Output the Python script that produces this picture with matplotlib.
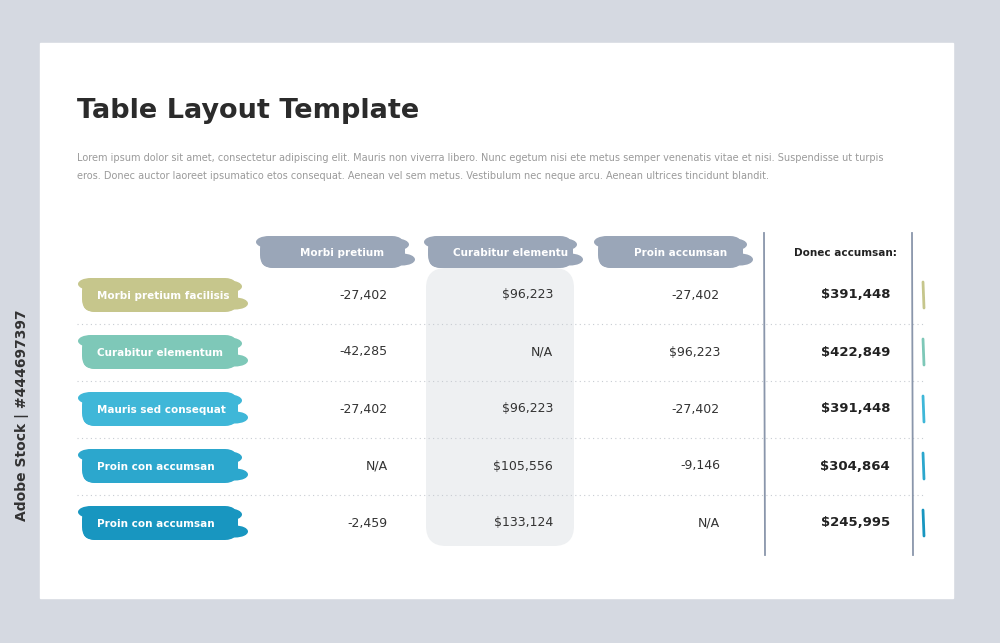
import matplotlib.pyplot as plt
from matplotlib.patches import FancyBboxPatch, Ellipse, Rectangle

title = "Table Layout Template"
body = ["Lorem ipsum dolor sit amet, consectetur adipiscing elit. Mauris non viverra libero. Nunc egetum nisi ete metus semper venenatis vitae et nisi. Suspendisse ut turpis",
        "eros. Donec auctor laoreet ipsumatico etos consequat. Aenean vel sem metus. Vestibulum nec neque arcu. Aenean ultrices tincidunt blandit."]
columns = ["Morbi pretium", "Curabitur elementu", "Proin accumsan"]
total_header = "Donec accumsan:"
rows = ["Morbi pretium facilisis", "Curabitur elementum", "Mauris sed consequat",
        "Proin con accumsan", "Proin con accumsan"]
col1 = ["-27,402", "-42,285", "-27,402", "N/A", "-2,459"]
col2 = ["$96,223", "N/A", "$96,223", "$105,556", "$133,124"]
col3 = ["-27,402", "$96,223", "-27,402", "-9,146", "N/A"]
totals = ["$391,448", "$422,849", "$391,448", "$304,864", "$245,995"]
row_colors = ["#c6c68c", "#7ec8b8", "#3fb7d8", "#2ca7cd", "#1896c0"]
head_color = "#9aa6b8"

fig = plt.figure(figsize=(10, 6.43), dpi=100)
fig.patch.set_facecolor("#d5d9e1")
ax = fig.add_axes([0, 0, 1, 1])
ax.set_xlim(0, 1000)
ax.set_ylim(643, 0)
ax.axis("off")

ax.add_patch(Rectangle((40, 43), 913, 555, color="white"))

def blob(x0, x1, yc, h, color):
    ax.add_patch(FancyBboxPatch((x0 + 10, yc - h / 2 + 5), x1 - x0 - 20, h - 10,
                                boxstyle="round,pad=5,rounding_size=13", color=color, lw=0))
    n = int((x1 - x0) / 22)
    for i in range(n + 1):
        cx = x0 + 14 + i * (x1 - x0 - 28) / n
        dy = 1.5 if i % 2 else -1
        ax.add_patch(Ellipse((cx, yc - h / 2 + 7 + dy), 26, 12, color=color, lw=0))
        ax.add_patch(Ellipse((cx + 6, yc + h / 2 - 7 - dy), 26, 12, color=color, lw=0))

ax.text(77, 111, title, fontsize=19.5, fontweight="bold", color="#2b2b2b", va="center")
for i, line in enumerate(body):
    ax.text(77, 158 + i * 18, line, fontsize=7.0, color="#9a9a9a", va="center")

# grey brush behind middle column
ax.add_patch(FancyBboxPatch((430, 272), 140, 270, boxstyle="round,pad=4,rounding_size=20",
                            color="#eef0f2", lw=0))

head_x = [(255, 410), (423, 578), (593, 748)]
for (x0, x1), c in zip(head_x, columns):
    blob(x0, x1, 252, 32, head_color)
    ax.text((x0 + x1) / 2 + 10, 253, c, fontsize=7.5, color="white", fontweight="bold",
            ha="center", va="center")
ax.text(845, 253, total_header, fontsize=7.5, fontweight="bold", color="#222", ha="center", va="center")

ys = [295, 352, 409, 466, 523]
for i, y in enumerate(ys):
    blob(77, 243, y, 34, row_colors[i])
    ax.text(97, y + 1, rows[i], fontsize=7.5, color="white", fontweight="bold", va="center")
    ax.text(388, y, col1[i], fontsize=9, color="#333", ha="right", va="center")
    ax.text(553, y, col2[i], fontsize=9, color="#333", ha="right", va="center")
    ax.text(720, y, col3[i], fontsize=9, color="#333", ha="right", va="center")
    ax.text(890, y, totals[i], fontsize=9.5, fontweight="bold", color="#222", ha="right", va="center")
    ax.plot([923, 924], [y - 13, y + 13], color=row_colors[i], lw=2, solid_capstyle="round")
    if i < len(ys) - 1:
        ax.plot([77, 925], [y + 28.5, y + 28.5], color="#c8ccd2", lw=0.8, ls=(0, (1, 3)))

ax.plot([764, 765], [233, 555], color="#8a96ab", lw=1.3)
ax.plot([912, 913], [233, 555], color="#8a96ab", lw=1.3)

fig.text(0.022, 0.19, "Adobe Stock | #444697397", rotation=90, fontsize=10, color="#333",
         fontweight="bold", va="bottom", ha="center")

fig.savefig("out.png", dpi=100, facecolor=fig.get_facecolor())
